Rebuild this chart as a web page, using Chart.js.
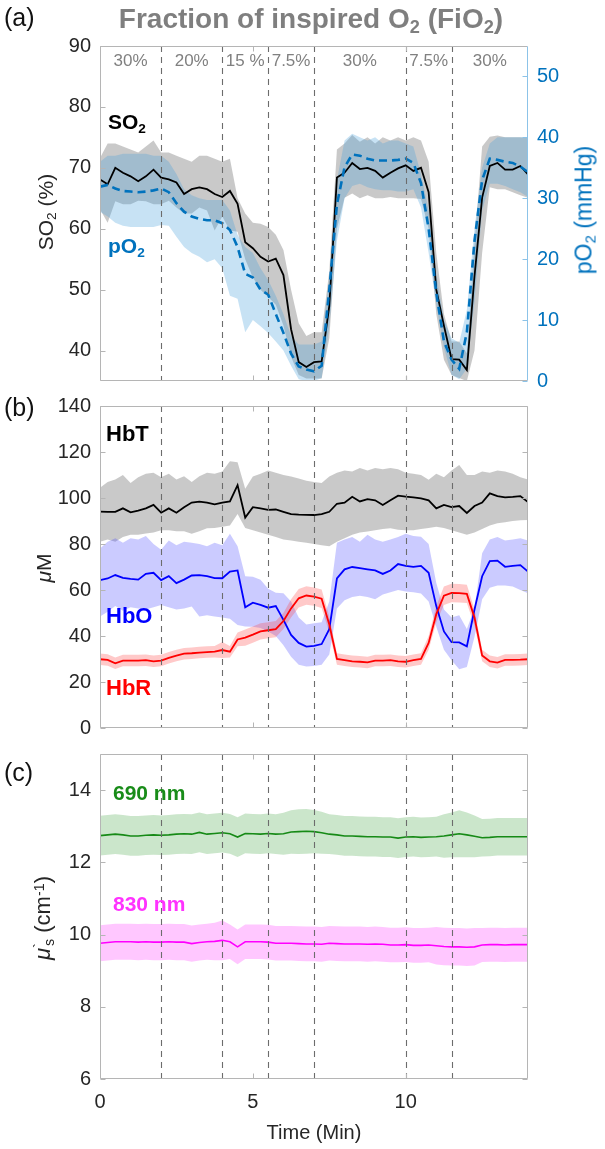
<!DOCTYPE html>
<html><head><meta charset="utf-8">
<script src="https://cdn.jsdelivr.net/npm/chart.js@4"></script>
<style>
body{margin:0;background:#fff;width:605px;height:1149px;position:relative;overflow:hidden;font-family:"Liberation Sans",Arial,Helvetica,sans-serif;color:#262626;}
canvas{position:absolute;left:0;}
.t{position:absolute;white-space:nowrap;line-height:1;}
.rot{transform:translate(-50%,-50%) rotate(-90deg);}
.c{transform:translate(-50%,-50%);}
sub{font-size:65%;vertical-align:-0.28em;line-height:0;}
sup{font-size:65%;vertical-align:0.45em;line-height:0;}
.b{font-weight:bold;}
</style></head><body>
<canvas id="ca" width="605" height="392" style="top:0"></canvas>
<canvas id="cb" width="605" height="348" style="top:392px"></canvas>
<canvas id="cc" width="605" height="409" style="top:740px"></canvas>

<div class="t" style="left:4px;top:5px;font-size:25px;color:#111">(a)</div>
<div class="t" style="left:4px;top:395px;font-size:25px;color:#111">(b)</div>
<div class="t" style="left:4px;top:760px;font-size:25px;color:#111">(c)</div>
<div class="t b c" style="left:311px;top:19px;font-size:28px;color:#7f7f7f">Fraction of inspired O<sub>2</sub> (FiO<sub>2</sub>)</div>

<div class="t rot" style="left:45px;top:212px;font-size:21px">SO<sub>2</sub> (%)</div>
<div class="t rot" style="left:584px;top:210px;font-size:23px;color:#0072BD">pO<sub>2</sub> (mmHg)</div>
<div class="t rot" style="left:43px;top:568px;font-size:21px"><i>μ</i>M</div>
<div class="t rot" style="left:43px;top:918px;font-size:22px"><i>μ</i><sup>`</sup><sub style="margin-left:-0.2em">s</sub> (cm<sup>-1</sup>)</div>
<div class="t c" style="left:314px;top:1132px;font-size:20px">Time (Min)</div>

<div class="t b" style="left:108px;top:111px;font-size:21px;color:#000">SO<sub>2</sub></div>
<div class="t b" style="left:108px;top:235px;font-size:21px;color:#0072BD">pO<sub>2</sub></div>
<div class="t b" style="left:106px;top:423px;font-size:22px;color:#000">HbT</div>
<div class="t b" style="left:106px;top:605px;font-size:22px;color:#0000ff">HbO</div>
<div class="t b" style="left:106px;top:677px;font-size:22px;color:#ff0000">HbR</div>
<div class="t b" style="left:113px;top:782px;font-size:21px;color:#198c19">690 nm</div>
<div class="t b" style="left:113px;top:893px;font-size:21px;color:#ff33ff">830 nm</div>

<script>
// ---------------- data ----------------
const time = [0,0.25,0.5,0.75,1,1.25,1.5,1.75,2,2.25,2.5,2.75,3,3.25,3.5,3.75,4,4.25,4.5,4.75,5,5.25,5.5,5.75,6,6.25,6.5,6.75,7,7.25,7.5,7.75,8,8.25,8.5,8.75,9,9.25,9.5,9.75,10,10.25,10.5,10.75,11,11.25,11.5,11.75,12,12.25,12.5,12.75,13,13.25,13.5,13.75,14];
const events = [2,4,5.5,7,10,11.5];
const fio2Labels = ['30%','20%','15 %','7.5%','30%','7.5%','30%'];
const xTicks = [0,5,10];
const so2Ticks = [40,50,60,70,80,90];
const po2Ticks = [0,10,20,30,40,50];
const hbTicks = [0,20,40,60,80,100,120,140];
const musTicks = [6,8,10,12,14];

// panel (a)
const so2 = [68.1,67.3,70.0,69.2,68.6,67.8,68.6,69.7,68.4,68.1,67.6,65.7,66.5,66.8,66.5,65.7,65.2,66.2,64.1,57.8,56.8,55.4,54.6,55.1,52.4,43.5,38.1,37.3,38.1,38.2,47.3,68.4,69.2,70.8,69.8,70.0,69.5,68.4,69.2,69.9,70.4,69.5,70.0,66.0,50.0,44.1,38.6,38.5,36.8,52.2,65.1,70.3,70.8,69.7,69.7,70.3,68.9];
const so2Hi = [71.6,74.0,74.0,73.5,73.0,72.5,73.5,74.5,72.5,72.5,72.0,71.5,71.0,72.0,72.0,71.5,71.0,71.5,65.0,62.5,61.0,60.8,60.3,59.0,56.5,50.0,44.5,42.4,43.0,43.0,53.0,73.0,74.0,75.4,74.3,75.0,74.0,75.0,74.5,75.0,74.5,75.0,74.5,71.0,56.0,46.0,41.5,41.5,39.5,57.6,73.5,75.1,75.3,75.0,75.0,75.0,74.9];
const so2Lo = [63.2,61.0,64.5,64.0,64.0,64.6,64.5,64.0,64.0,64.6,63.5,62.5,62.5,63.5,63.0,59.7,62.0,59.7,59.5,55.0,52.0,50.0,48.8,47.5,44.1,39.0,36.0,35.4,35.4,35.4,42.0,60.0,65.1,65.8,65.0,65.5,65.0,65.0,65.2,65.0,65.0,65.0,64.9,60.0,46.0,38.5,36.0,35.5,35.0,40.0,56.0,66.8,66.5,66.5,66.0,65.5,65.1];
const po2 = [31.9,32.2,31.6,31.2,31.1,31.0,31.1,31.3,31.6,31.0,29.2,27.8,27.0,26.6,26.4,26.4,25.9,24.8,22.0,17.6,17.0,15.0,14.2,11.0,7.9,4.5,2.4,1.9,1.6,2.5,15.0,29.0,35.1,37.2,37.0,36.5,36.2,36.2,36.2,36.3,36.5,35.8,32.5,25.0,14.5,6.5,3.5,2.0,8.0,23.0,33.0,36.5,36.3,36.0,35.8,35.2,34.3];
const po2Hi = [36.0,37.0,37.0,37.3,37.3,37.3,37.3,37.0,37.0,36.0,34.0,31.5,30.5,30.0,29.7,29.7,29.7,28.0,24.0,22.0,21.0,18.5,16.6,14.0,11.0,7.4,6.0,6.0,6.0,6.5,17.0,33.0,39.5,40.6,40.0,39.5,40.0,39.0,39.5,39.5,39.0,38.5,34.0,28.0,17.5,10.0,7.0,6.3,11.7,25.0,35.0,39.0,40.0,40.0,40.0,40.0,40.0];
const po2Lo = [27.8,27.0,26.0,25.5,25.3,25.3,25.3,25.3,25.6,25.5,23.7,22.0,21.0,20.4,19.5,20.0,18.5,14.0,13.5,8.0,10.0,9.0,7.9,6.5,5.0,2.5,0.3,0,0,0.5,9.0,23.0,30.0,32.0,32.4,31.8,31.5,31.3,31.3,31.1,31.1,31.5,28.5,21.0,12.5,5.5,1.0,0.3,2.0,13.0,28.0,32.4,32.4,32.0,31.5,31.0,30.2];

// panel (b)
const hbt = [94.1,94.0,94.0,95.5,93.8,94.5,95.5,97.0,93.6,95.5,93.6,96.0,98.0,98.4,98.0,97.2,98.0,98.5,105.6,91.5,96.0,95.5,94.8,95.0,94.0,93.0,92.8,92.7,92.6,93.0,94.0,97.5,98.0,100.5,98.5,99.5,99.0,97.0,99.0,101.0,100.6,100.3,99.8,99.0,95.5,97.0,96.0,96.5,93.5,96.5,98.0,102.0,100.8,100.3,100.5,100.8,98.2];
const hbtHi = [104.5,107,108,110,106.5,109,110.5,111,109,110.5,108,109.5,107,109.5,111,110.5,111.5,116,115.5,104,109.3,110.5,112,111,110,109.3,108.5,107.5,107,106.5,109.3,111,112,111.5,113,112,113,112.5,113,112.5,111,110.5,110,107.9,110.5,109,112,114.4,110,110,111.5,111,112,111.5,110.5,109,108];
const hbtLo = [81,82,81,83,84,84,84.6,85,86,86,85.5,85.5,84.5,85.5,86.8,87,87.5,88,93,87,86,85,84,83,82,81.5,81,80.5,80,79.5,79,81,82.5,84,85,85.4,86,86.5,86.8,86.2,86,86,86.5,87,87.5,87,86,85,84,85,86.5,88,89,89.5,90,90.3,90.4];
const hbo = [64.3,65.0,66.5,65.3,64.8,64.5,67.0,67.5,64.3,66.0,63.0,64.5,66.3,66.5,66.0,65.2,65.1,68.0,68.5,52.5,54.5,53.5,52.3,53.0,47.0,40.5,37.0,35.4,35.7,36.5,43.0,65.0,69.0,70.0,69.5,69.0,68.5,67.0,68.5,71.3,70.5,70.1,70.5,67.5,53.0,42.0,37.3,37.2,35.5,51.5,66.0,72.6,72.8,70.1,70.5,70.8,68.0];
const hboHi = [78,81,82.5,80.5,82.5,82,83.5,80,77.5,81.5,79.5,81,80.5,80,79,80.5,79.5,84.5,79,66,65.8,64.5,60.5,58.8,58.6,55,48,45,45.5,46,55,80.5,82,83,81,84,82,81,82,83,84.5,83.5,83.2,80,63,51.5,48,49,43,52,76,82,83,81.5,82,82.5,81.5];
const hboLo = [48.5,50.5,53,51,52.5,52,51.5,52.5,53.5,52.5,51.5,52,52.8,48.5,49,48.5,48,47.5,44.8,44.1,44,43.5,42,40,36,31,27.5,26.7,27,27.5,32,52,55.5,57,57.5,57,56,58,59,60,59.3,59,58.5,55,44,34,29.5,25.5,26.5,39.7,56,61,62,62,61.5,60,58.6];
const hbr = [29.9,29.6,28.1,29.3,29.3,29.3,29.5,29.0,29.3,30.5,31.5,32.3,32.5,32.8,33.0,33.2,33.9,33.2,38.5,39.3,40.6,42.0,42.5,43.0,46.5,52.0,56.4,57.6,57.1,56.2,45.0,30.0,29.5,29.0,28.8,28.5,29.3,29.3,29.5,29.0,28.8,29.5,30.0,37.0,49.5,57.5,58.7,58.6,58.3,48.0,31.5,29.0,28.4,29.6,29.6,29.7,29.9];
const hbrSd = [2.5,2.5,2.5,2.5,2.5,2.5,2.5,2.5,2.5,2.5,2.5,2.5,2.5,2.5,2.5,2.5,3.5,2.5,3.0,3.5,3.5,3.5,3.5,3.5,3.5,4.0,4.0,4.0,4.0,4.0,3.5,2.5,2.5,2.5,2.5,2.5,2.5,2.5,2.5,2.5,2.5,2.5,2.5,3.0,3.5,4.0,4.0,4.0,4.0,3.5,2.5,2.5,2.5,2.5,2.5,2.5,2.5];

// panel (c)
const mus690 = [12.74,12.76,12.78,12.76,12.73,12.73,12.75,12.76,12.75,12.76,12.78,12.79,12.78,12.83,12.78,12.80,12.82,12.79,12.70,12.80,12.79,12.78,12.80,12.78,12.79,12.84,12.85,12.86,12.85,12.82,12.78,12.76,12.73,12.73,12.72,12.71,12.71,12.70,12.70,12.67,12.70,12.71,12.69,12.70,12.71,12.73,12.76,12.79,12.76,12.72,12.68,12.69,12.71,12.71,12.71,12.71,12.71];
const sd690 = [0.55,0.55,0.55,0.55,0.55,0.55,0.55,0.55,0.55,0.55,0.55,0.55,0.55,0.55,0.55,0.55,0.55,0.55,0.55,0.55,0.55,0.55,0.55,0.55,0.58,0.6,0.62,0.62,0.6,0.58,0.55,0.55,0.55,0.55,0.55,0.55,0.55,0.55,0.55,0.55,0.55,0.55,0.55,0.55,0.55,0.6,0.62,0.65,0.62,0.58,0.52,0.52,0.52,0.52,0.52,0.52,0.52];
const mus830 = [9.76,9.78,9.80,9.80,9.80,9.79,9.80,9.79,9.79,9.80,9.79,9.79,9.75,9.78,9.80,9.81,9.84,9.80,9.66,9.80,9.80,9.80,9.79,9.76,9.76,9.76,9.75,9.74,9.74,9.73,9.76,9.75,9.74,9.74,9.74,9.73,9.74,9.73,9.71,9.71,9.72,9.70,9.70,9.71,9.69,9.67,9.66,9.66,9.65,9.66,9.71,9.72,9.72,9.71,9.72,9.72,9.72];
const sd830 = [0.5,0.5,0.5,0.5,0.5,0.5,0.5,0.5,0.5,0.5,0.5,0.5,0.5,0.5,0.5,0.52,0.55,0.48,0.48,0.48,0.48,0.48,0.48,0.48,0.48,0.48,0.48,0.48,0.48,0.48,0.48,0.48,0.48,0.48,0.48,0.48,0.48,0.48,0.48,0.48,0.48,0.48,0.48,0.48,0.52,0.52,0.52,0.52,0.52,0.52,0.47,0.47,0.47,0.47,0.47,0.47,0.47];

// ---------------- helpers ----------------
const FONT = '"Liberation Sans", Arial, Helvetica, sans-serif';
Chart.defaults.font.family = FONT;
Chart.defaults.animation = false;
const pts = arr => time.map((t,i)=>({x:t,y:arr[i]}));
const add = (m,s)=>m.map((v,i)=>v+s[i]);
const sub = (m,s)=>m.map((v,i)=>v-s[i]);
function band(hi, lo, color, order, yAxisID){
  yAxisID = yAxisID||'y';
  return [
    {data:pts(hi), borderWidth:0, pointRadius:0, fill:'+1', backgroundColor:color, order, yAxisID},
    {data:pts(lo), borderWidth:0, pointRadius:0, fill:false, order, yAxisID}
  ];
}
function line(arr,color,width,order,extra){
  return Object.assign({data:pts(arr), borderColor:color, borderWidth:width, pointRadius:0, fill:false, order, tension:0, yAxisID:'y'}, extra||{});
}
function xScale(display){
  return {type:'linear', min:0, max:14, display,
    afterBuildTicks:s=>{s.ticks=xTicks.map(v=>({value:v}));},
    grid:{display:false, drawTicks:false}, border:{display:false},
    ticks:{display, color:'#262626', font:{size:20}, padding:11, maxRotation:0, autoSkip:false},
    afterFit:s=>{s.height=display?40:0; s.paddingLeft=0; s.paddingRight=0;}};
}
function yScale(min,max,ticks,pos,color,width){
  return {type:'linear', position:pos, min, max,
    afterBuildTicks:s=>{s.ticks=ticks.map(v=>({value:v}));},
    grid:{display:false, drawTicks:false}, border:{display:false},
    ticks:{color, font:{size:20}, padding:9, autoSkip:false},
    afterFit:s=>{s.width=width; s.paddingTop=0; s.paddingBottom=0;}};
}
const framePlugin = {
  id:'frame',
  afterDatasetsDraw(chart, args, o){
    const ctx = chart.ctx, a = chart.chartArea, x = chart.scales.x, y = chart.scales.y;
    ctx.save();
    ctx.beginPath(); ctx.rect(a.left,a.top,a.right-a.left,a.bottom-a.top); ctx.clip();
    ctx.strokeStyle='#6c6c6c'; ctx.lineWidth=1.1; ctx.setLineDash([6,5]);
    events.forEach(t=>{const p=Math.round(x.getPixelForValue(t))+0.5; ctx.beginPath(); ctx.moveTo(p,a.top); ctx.lineTo(p,a.bottom); ctx.stroke();});
    ctx.restore();
    ctx.save(); ctx.lineWidth=1; ctx.setLineDash([]);
    const g='#b5b5b5';
    const L=Math.round(a.left)+0.5, R=Math.round(a.right)-0.5, T=Math.round(a.top)+0.5, B=Math.round(a.bottom)-0.5;
    const seg=(x1,y1,x2,y2,c)=>{ctx.strokeStyle=c;ctx.beginPath();ctx.moveTo(x1,y1);ctx.lineTo(x2,y2);ctx.stroke();};
    seg(L,T,R,T,g); seg(L,B,R,B,g); seg(L,T,L,B,g); seg(R,T,R,B,o.rightColor||g);
    const tl=5;
    xTicks.forEach(v=>{const p=Math.round(x.getPixelForValue(v))+0.5; seg(p,B,p,B-tl,g); seg(p,T,p,T+tl,g);});
    y.ticks.forEach(tk=>{const p=Math.round(y.getPixelForValue(tk.value))+0.5; seg(L,p,L+tl,p,g); if(!o.y2) seg(R,p,R-tl,p,g);});
    if(o.y2){const y2=chart.scales.y2; y2.ticks.forEach(tk=>{const p=Math.round(y2.getPixelForValue(tk.value))+0.5; seg(R,p,R-tl,p,o.rightColor);});}
    ctx.restore();
  }
};
const basePlugins = {legend:{display:false}, tooltip:{enabled:false}};

// ---------------- panel (a) ----------------
const chartA = new Chart(document.getElementById('ca'), {
  type:'line',
  data:{datasets:[
    ...band(so2Hi, so2Lo, 'rgba(135,135,135,0.45)', 4),
    ...band(po2Hi, po2Lo, 'rgba(70,160,220,0.30)', 3, 'y2'),
    line(so2, '#000000', 1.8, 1),
    line(po2, '#0072BD', 2.6, 0, {yAxisID:'y2', borderDash:[8,5]})
  ]},
  options:{responsive:false, maintainAspectRatio:false,
    layout:{padding:{top:46, bottom:11, left:0, right:0}},
    scales:{x:xScale(false), y:yScale(35,90,so2Ticks,'left','#262626',100), y2:yScale(0,55,po2Ticks,'right','#0072BD',77)},
    plugins:Object.assign({frame:{y2:true, rightColor:'#8cc3e8'}}, basePlugins)},
  plugins:[framePlugin]
});

// FiO2 labels at the centre of each inspired-O2 period
(function(){
  const bounds=[0,...events,14];
  fio2Labels.forEach((lab,i)=>{
    const px = chartA.scales.x.getPixelForValue((bounds[i]+bounds[i+1])/2);
    const d=document.createElement('div');
    d.className='t c'; d.textContent=lab;
    d.style.cssText='left:'+px+'px;top:60px;font-size:17px;color:#808080';
    document.body.appendChild(d);
  });
})();

// ---------------- panel (b) ----------------
new Chart(document.getElementById('cb'), {
  type:'line',
  data:{datasets:[
    ...band(hbtHi, hbtLo, 'rgba(135,135,135,0.45)', 5),
    ...band(hboHi, hboLo, 'rgba(70,70,255,0.28)', 4),
    ...band(add(hbr,hbrSd), sub(hbr,hbrSd), 'rgba(255,60,60,0.28)', 3),
    line(hbt, '#000000', 1.8, 2),
    line(hbo, '#0000ff', 1.8, 1),
    line(hbr, '#ff0000', 1.8, 0)
  ]},
  options:{responsive:false, maintainAspectRatio:false,
    layout:{padding:{top:14, bottom:12, left:0, right:77}},
    scales:{x:xScale(false), y:yScale(0,140,hbTicks,'left','#262626',100)},
    plugins:Object.assign({frame:{}}, basePlugins)},
  plugins:[framePlugin]
});

// ---------------- panel (c) ----------------
new Chart(document.getElementById('cc'), {
  type:'line',
  data:{datasets:[
    ...band(add(mus690,sd690), sub(mus690,sd690), 'rgba(20,140,20,0.22)', 3),
    ...band(add(mus830,sd830), sub(mus830,sd830), 'rgba(255,0,255,0.22)', 2),
    line(mus690, '#168a16', 1.6, 1),
    line(mus830, '#ff00ff', 1.6, 0)
  ]},
  options:{responsive:false, maintainAspectRatio:false,
    layout:{padding:{top:14, bottom:30, left:0, right:77}},
    scales:{x:xScale(true), y:yScale(6,15,musTicks,'left','#262626',100)},
    plugins:Object.assign({frame:{}}, basePlugins)},
  plugins:[framePlugin]
});
</script>
</body></html>
